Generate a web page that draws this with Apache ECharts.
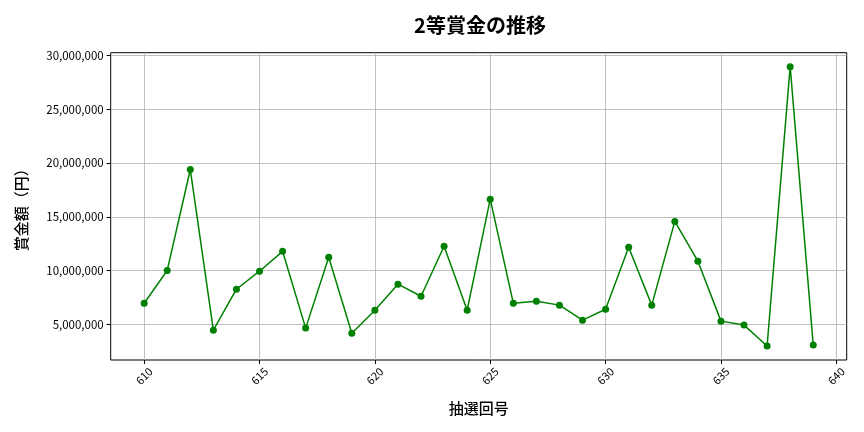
<!DOCTYPE html>
<html><head><meta charset="utf-8">
<script src="https://cdn.jsdelivr.net/npm/echarts@6/dist/echarts.min.js"></script>
<style>html,body{margin:0;padding:0;background:#fff}#c{width:864px;height:432px}</style>
</head><body><div id="c"></div>
<script>
const draws = [610,611,612,613,614,615,616,617,618,619,620,621,622,623,624,625,626,627,628,629,630,631,632,633,634,635,636,637,638,639];
const prizes = [6950000,10000000,19400000,4440000,8250000,9930000,11780000,4630000,11230000,4160000,6300000,8720000,7600000,12250000,6300000,16640000,6950000,7140000,6770000,5370000,6390000,12160000,6770000,14570000,10860000,5280000,4910000,2960000,28980000,3050000];
const xTicks = [610,615,620,625,630,635,640];
const yTicks = [5000000,10000000,15000000,20000000,25000000,30000000];
const titleText = '2等賞金の推移';
const xName = '抽選回号';
const yName = '賞金額（円）';

const FONT = '"Noto Sans CJK JP", "Noto Sans", sans-serif';
const chart = echarts.init(document.getElementById('c'), null, {renderer:'canvas'});
chart.setOption({
  animation:false,
  backgroundColor:'#fff',
  title:{text:titleText,left:475,top:10,textAlign:'center',textStyle:{fontFamily:FONT,fontSize:20,fontWeight:'bold',color:'#000'}},
  grid:{left:110.7,right:17.3,top:52.7,bottom:72,show:true,borderColor:'#000',borderWidth:1,backgroundColor:'transparent'},
  xAxis:{type:'value',min:608.55,max:640.45,
    name:xName,nameLocation:'middle',nameGap:41,nameTextStyle:{fontFamily:FONT,fontSize:15,fontWeight:500,color:'#000'},
    axisLine:{show:false},
    axisTick:{show:true,customValues:xTicks,length:4,inside:false,lineStyle:{color:'#000'}},
    axisLabel:{customValues:xTicks,rotate:45,align:'center',verticalAlign:'middle',margin:16,fontFamily:FONT,fontSize:11,color:'#000',formatter:v=>String(v)},
    splitLine:{show:true,lineStyle:{color:'#b0b0b0',width:0.8}}},
  yAxis:{type:'value',min:1660000,max:30280000,
    name:yName,nameLocation:'middle',nameGap:82,nameRotate:90,nameTextStyle:{fontFamily:FONT,fontSize:15,fontWeight:500,color:'#000'},
    axisLine:{show:false},
    axisTick:{show:true,customValues:yTicks,length:4,lineStyle:{color:'#000'}},
    axisLabel:{customValues:yTicks,margin:7,fontFamily:FONT,fontSize:11.5,color:'#000',formatter:v=>v.toLocaleString('en-US')},
    splitLine:{show:true,lineStyle:{color:'#b0b0b0',width:0.8}}},
  series:[{type:'line',data:draws.map((d,i)=>[d,prizes[i]]),
    symbol:'circle',symbolSize:7,
    lineStyle:{color:'#008000',width:1.5},
    itemStyle:{color:'#008000'}}]
});
</script></body></html>
